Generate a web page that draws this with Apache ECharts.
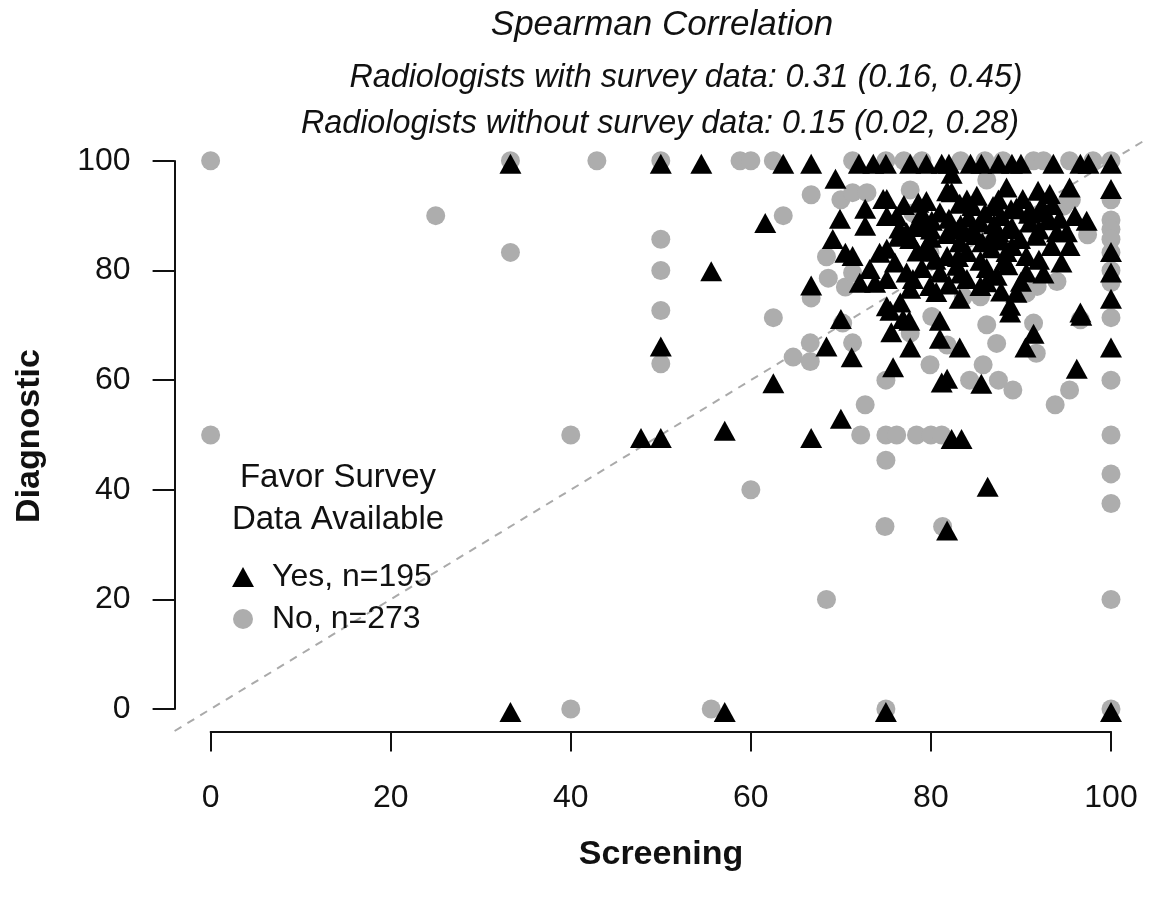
<!DOCTYPE html>
<html><head><meta charset="utf-8">
<script src="https://cdn.jsdelivr.net/npm/echarts@6/dist/echarts.min.js"></script>
<style>html,body{margin:0;padding:0;background:#fff;}#c{width:1154px;height:904px;}</style>
</head><body><div id="c"></div>
<script>
const titleText = 'Spearman Correlation';
const subLines = ['Radiologists with survey data: 0.31 (0.16, 0.45)', 'Radiologists without survey data: 0.15 (0.02, 0.28)'];
const xName = 'Screening';
const yName = 'Diagnostic';
const legendTitle = ['Favor Survey', 'Data Available'];
const seriesNames = ['Yes, n=195', 'No, n=273'];
const ticks = [0, 20, 40, 60, 80, 100];
const refLine = [[-4, -4], [104, 104]];

// Favor survey data available: Yes (triangles)
const yesPoints = [
 [33.3,100],[50,100],[54.5,100],[63.6,100],[66.7,100],[72,100],[73.6,100],[75,100],[77.7,100],[79.5,100],
 [81.2,100],[82,100],[84.4,100],[85.6,100],[87.5,100],[89,100],[90,100],[93.6,100],[96.6,100],[97.5,100],[100,100],
 [33.3,0],[57.1,0],[75,0],[100,0],
 [55.6,80.4],[61.6,89.2],[50,66.7],[47.8,50],[50,50],[57.1,51.3],[62.5,60],[66.7,50],[66.7,77.8],[68.4,66.7],
 [70,71.7],[71.2,64.7],[70,53.5],[69.4,97.3],[69.9,90],[72.7,91.8],[72.7,88.7],[74.7,93.6],[69.1,86.3],[70.5,83.8],
 [71.3,83.2],[73.2,80.8],[74.3,83.8],[72.1,78.3],[73.8,78.3],[75.1,74],
 [82.3,98.2],[75.1,93.6],[79.5,93.2],[82.3,94.8],[85.1,94.2],[88.4,95.7],[91.9,95.1],[93.2,94.5],[95.4,95.7],[100,95.4],
 [90.2,93.6],[86.9,92.3],[83.2,92.7],[81,91.1],[76.2,90.5],[78.4,89],[75.1,90.5],[80.1,89.6],[84.2,90.2],[85.5,89.3],
 [88.6,88.1],[91,89.3],[92.7,91.1],[94.3,90],[95.1,87.5],[95.4,85],[100,83.9],[100,80.2],[100,75.4],[77.7,86.3],
 [81.8,87.2],[83.2,85.7],[84.5,87.5],[86.6,86.3],[89.9,86.3],[91.7,86.9],[93.4,85],[81.8,83.2],[84,83.9],[85.5,82.3],
 [88.4,83.9],[90.6,83.2],[90.6,80.2],[87.3,79.6],[85.5,77.7],[82.9,81.4],[81,80.2],[79.5,85],[77.3,87.5],[75.1,84.5],
 [77.3,80.2],[79.9,77.7],[77.7,77.2],[75.1,79],[76.6,74.7],[80.6,76.6],[83.2,75.4],[86.2,78.4],[96.6,72.9],[88.8,74.1],
 [75.5,73.2],[76.9,71.7],[77.6,71.4],[81,71.4],[75.6,69.3],[77.7,66.5],[81,68.1],[83.2,66.5],[75.8,62.9],[81.2,60.1],
 [81.8,60.8],[85.6,59.9],[88.8,72.9],[91.4,69],[90.5,66.5],[96.7,72.3],[96.2,62.6],[100,66.5],[82.3,49.8],[83.4,49.8],
 [86.3,41.1],[81.8,33.1],
 [78.6,92.9],[80,88],[83.3,88.9],[86.7,84.6],[88.9,91.7],[87.5,87.5],[85.7,85.7],[82.4,88.2],[80,84],[84.6,92.3],
 [90.9,90.9],[92.3,92.3],[88.2,82.4],[83.3,80],[87,89],[81.8,95],[76.5,88.2],[79,81],[86,91],[89,85],
 [77,92.5],[79,91],[82,90],[84,93.5],[87.5,93.5],[89.5,92],[91,91.5],[93.5,92.5],[87.8,90.5],[83,88],
 [85,87],[87.8,86],[89,88.5],[92,88],[94,87.5],[78.5,84],[80.5,82.5],[83,83],[86.2,81],[88.5,81.5],
 [90,78.5],[92,82.5],[94.5,82],[84,79],[82,78],[78,79],[76,82],[87.8,76.7],[89.5,76.5],[92.5,80],
 [80,86.5],[76.4,86.7],[79,88.5],[93,89.7],[96,90.5],[97.3,89.6]
];

// Favor survey data available: No (circles)
const noPoints = [
 [0,100],[0,50],[25,90],[33.3,83.3],[33.3,100],[42.9,100],[40,50],[40,0],[50,100],[50,85.7],
 [50,80],[50,72.7],[50,63],[60,40],[55.6,0],[58.8,100],[60,100],[62.5,100],[71.3,100],
 [66.6,66.8],[64.7,64.2],[66.6,63.4],[71.3,66.8],[70.2,70.4],[62.5,71.4],[72.7,55.5],[72.2,50],[75,50],[75,45.4],
 [75,60],[66.7,75],[66.7,93.8],[63.6,90],[70,92.9],[71.3,94.2],[72.9,94.2],[68.4,82.5],[68.6,78.6],[70.5,77],
 [71.3,79.6],[68.4,20],[74.9,33.3],[81.3,33.3],
 [77.7,94.7],[86.2,96.5],[77.3,86.2],[79.9,83.2],[95.6,92.9],[97.4,86.5],[94,78],[91.8,77.1],[90.6,75.9],[83.6,75.2],
 [85.5,75.2],[78,90.5],[94.7,91.7],
 [86.2,70.1],[87.3,66.7],[81.8,66.4],[77.7,68.6],[80.1,71.6],[79.9,62.8],[84.3,60],[85.8,62.8],[87.5,60],[89.1,58.2],
 [91.4,70.4],[91.7,64.9],[93.8,55.5],[95.4,58.2],[96.6,71],[76.2,50],[78.4,50],[80,50],[81.2,50],
 [100,100],[100,92.9],[100,89.2],[100,87.5],[100,85.7],[100,83.3],[100,80],[100,77.8],[100,71.4],[100,60],
 [100,50],[100,42.9],[100,37.5],[100,20],[100,0],
 [75,100],[77,100],[79,100],[83.3,100],[86,100],[88,100],[91.4,100],[92.5,100],[95.4,100],[98,100],
 [75,0]
];

const FONT = "'Liberation Sans', Arial, Helvetica, sans-serif";
const chart = echarts.init(document.getElementById('c'), null, {renderer: 'canvas'});
const txt = (text, x, y, size, extra) => Object.assign({
  type: 'text', x: x, y: y,
  style: Object.assign({text: text, fontFamily: FONT, fontSize: size, fill: '#111', textAlign: 'center', textVerticalAlign: 'middle'}, extra || {})
});

chart.setOption({
  animation: false,
  backgroundColor: '#fff',
  grid: [
    {left: 174.6, top: 138.9, width: 972.4, height: 592.1},
    {left: 210.6, top: 138.9, width: 900.4, height: 592.6},
    {left: 174.6, top: 161, width: 936.4, height: 548}
  ],
  xAxis: [
    {gridIndex: 0, type: 'value', min: -4, max: 104, show: false},
    {gridIndex: 1, type: 'value', min: 0, max: 100, interval: 20,
     axisLine: {show: true, lineStyle: {color: '#111', width: 2}},
     axisTick: {show: true, length: 20, lineStyle: {color: '#111', width: 2}},
     axisLabel: {fontSize: 32, fontFamily: FONT, color: '#111', margin: 51},
     splitLine: {show: false}},
    {gridIndex: 2, type: 'value', min: 0, max: 100, show: false}
  ],
  yAxis: [
    {gridIndex: 0, type: 'value', min: -4, max: 104, show: false},
    {gridIndex: 1, type: 'value', min: 0, max: 100, show: false},
    {gridIndex: 2, type: 'value', min: 0, max: 100, interval: 20,
     axisLine: {show: true, lineStyle: {color: '#111', width: 2}},
     axisTick: {show: true, length: 22, lineStyle: {color: '#111', width: 2}},
     axisLabel: {fontSize: 32, fontFamily: FONT, color: '#111', margin: 44},
     splitLine: {show: false}}
  ],
  legend: {
    orient: 'vertical', left: 227, top: 556,
    itemWidth: 22, itemHeight: 20, itemGap: 10,
    data: seriesNames,
    textStyle: {fontSize: 32, fontFamily: FONT, color: '#111', lineHeight: 32, padding: [0, 0, 0, 13]}
  },
  series: [
    {type: 'line', xAxisIndex: 0, yAxisIndex: 0, data: refLine, symbol: 'none', silent: true,
     lineStyle: {color: '#aaaaaa', width: 2, type: [8, 7]}, z: 1},
    {name: seriesNames[1], type: 'scatter', xAxisIndex: 0, yAxisIndex: 0, data: noPoints,
     symbol: 'circle', symbolSize: 19, itemStyle: {color: '#adadad', opacity: 1}, z: 2},
    {name: seriesNames[0], type: 'scatter', xAxisIndex: 0, yAxisIndex: 0, data: yesPoints,
     symbol: 'triangle', symbolSize: [22, 20], symbolOffset: [0, 3], itemStyle: {color: '#000', opacity: 1}, z: 3}
  ],
  graphic: [
    txt(titleText, 662, 25, 35, {fontStyle: 'italic'}),
    txt(subLines[0], 686, 78, 32.3, {fontStyle: 'italic'}),
    txt(subLines[1], 660, 124, 32.3, {fontStyle: 'italic'}),
    txt(xName, 661, 855, 34, {fontWeight: 'bold'}),
    Object.assign(txt(yName, 0, 0, 34, {fontWeight: 'bold'}), {x: 30, y: 436, rotation: Math.PI / 2}),
    txt(legendTitle[0], 338, 478, 33),
    txt(legendTitle[1], 338, 520, 33)
  ]
});
</script></body></html>
